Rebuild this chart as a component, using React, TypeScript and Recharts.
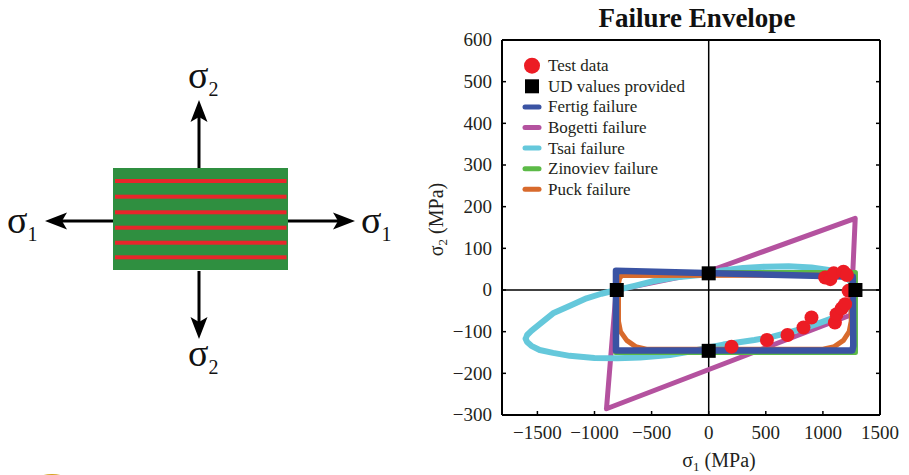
import React from 'react';
import { ScatterChart, Scatter, XAxis, YAxis, ReferenceLine, Legend, Label } from 'recharts';

const FONT = '"Liberation Serif", "Times New Roman", serif';
const SERIF = { fontFamily: FONT };

// Axis setup (MPa)
const SIGMA1_TICKS = [-1500, -1000, -500, 0, 500, 1000, 1500];
const SIGMA2_TICKS = [-300, -200, -100, 0, 100, 200, 300, 400, 500, 600];
const SIGMA1_DOMAIN: [number, number] = [-1810, 1500];
const SIGMA2_DOMAIN: [number, number] = [-300, 600];

// Biaxial test results
const testS1 = [200, 510, 690, 830, 900, 1105, 1120, 1165, 1195, 1225, 1020, 1065, 1095, 1180, 1210];
const testS2 = [-136, -120, -108, -90, -66, -78, -58, -44, -34, -2, 30, 26, 40, 44, 36];

// Uniaxial strengths supplied for the UD lamina
const udS1 = [-805, 0, 0, 1285];
const udS2 = [0, 40, -146, 0];

// Predicted failure envelopes, traced as closed outlines
const fertigS1 = [-812, -812, 1262, 1266, 1258, -812];
const fertigS2 = [-145, 46, 32, -134, -145, -145];

const bogettiS1 = [-895, 1245, 1283, 0, -810, -895];
const bogettiS2 = [-285, -60, 172, 45, 0, -285];

const tsaiS1 = [-1603, -1590, -1553, -1480, -1363, -1200, -1070, -940, -807, -650, -486, -300, -76, 100, 300, 500, 700, 900, 1050, 1150, 1220, 1254, 1262, 1248, 1220, 1160, 1080, 960, 860, 700, 560, 400, 250, 128, 0, -150, -339, -600, -800, -1000, -1217, -1363, -1480, -1553, -1590, -1603];
const tsaiS2 = [-117, -108, -98, -82, -56, -36, -20, -9, 0, 10, 21, 30, 36, 46, 53, 56, 57, 54, 48, 40, 28, 14, 0, -24, -42, -56, -68, -80, -90, -102, -112, -120, -126, -131, -138, -147, -156, -162, -164, -163, -158, -151, -144, -134, -125, -117];

const zinovievS1 = [-815, -815, 1285, 1285, -815];
const zinovievS2 = [-150, 42, 42, -150, -150];

const puckS1 = [-790, -790, -780, -760, 1240, 1248, 1248, 1230, 1180, 1100, 1000, -545, -640, -718, -772, -790];
const puckS2 = [-75, 15, 28, 35, 36, 28, -75, -100, -121, -136, -142, -142, -136, -121, -100, -75];

const COLORS = {
  test: '#ec1c24',
  ud: '#000000',
  fertig: '#3a53a3',
  bogetti: '#b4529f',
  tsai: '#65c8db',
  zinoviev: '#5cba47',
  puck: '#d86a2c',
};

const LEGEND_ITEMS = [
  { name: 'Test data', kind: 'circle', color: COLORS.test },
  { name: 'UD values provided', kind: 'square', color: COLORS.ud },
  { name: 'Fertig failure', kind: 'line', color: COLORS.fertig },
  { name: 'Bogetti failure', kind: 'line', color: COLORS.bogetti },
  { name: 'Tsai failure', kind: 'line', color: COLORS.tsai },
  { name: 'Zinoviev failure', kind: 'line', color: COLORS.zinoviev },
  { name: 'Puck failure', kind: 'line', color: COLORS.puck },
];

const zip = (xs: number[], ys: number[]) => xs.map((x, i) => ({ x, y: ys[i] }));

const testData = zip(testS1, testS2);
const udData = zip(udS1, udS2);
const fertigData = zip(fertigS1, fertigS2);
const bogettiData = zip(bogettiS1, bogettiS2);
const tsaiData = zip(tsaiS1, tsaiS2);
const zinovievData = zip(zinovievS1, zinovievS2);
const puckData = zip(puckS1, puckS2);

const fmt = (v: number) => (v < 0 ? '\u2212' + Math.abs(v) : String(v));
const blank = () => '';
const noMarker = () => <g />;

const Dot = (p: any) => <circle cx={p.cx} cy={p.cy} r={7} fill={COLORS.test} />;
const Square = (p: any) => <rect x={p.cx - 7} y={p.cy - 7} width={14} height={14} fill={COLORS.ud} />;

const outline = (color: string, width: number) => ({
  stroke: color,
  strokeWidth: width,
  strokeLinejoin: 'round' as const,
  strokeLinecap: 'round' as const,
});

const TICK_FONT = 19;

const XTick = (p: any) => (
  <text x={p.x} y={p.y} dy="0.71em" textAnchor="middle" fontSize={TICK_FONT} fill="#231f20" style={SERIF}>
    {fmt(p.payload.value)}
  </text>
);

const YTick = (p: any) => (
  <text x={p.x} y={p.y} dy="0.34em" textAnchor="end" fontSize={TICK_FONT} fill="#231f20" style={SERIF}>
    {fmt(p.payload.value)}
  </text>
);

const renderLegend = () => (
  <svg width={200} height={150} style={{ display: 'block', fontFamily: FONT }}>
    {LEGEND_ITEMS.map((item, i) => {
      const cy = 11.7 + i * 20.6;
      let marker;
      if (item.kind === 'circle') marker = <circle cx={17} cy={cy} r={8} fill={item.color} />;
      else if (item.kind === 'square') marker = <rect x={10} y={cy - 7} width={14} height={14} fill={item.color} />;
      else marker = <line x1={10} x2={24} y1={cy} y2={cy} stroke={item.color} strokeWidth={5} strokeLinecap="round" />;
      return (
        <g key={item.name}>
          {marker}
          <text x={33} y={cy + 5.5} fontSize={17} fill="#231f20" style={SERIF}>{item.name}</text>
        </g>
      );
    })}
  </svg>
);

const S2Label = (props: any) => {
  const vb = props.viewBox || { x: 0, y: 40, width: 502, height: 375 };
  const x = vb.x + vb.width - 59;
  const y = vb.y + vb.height / 2 - 8;
  return (
    <text x={x} y={y} transform={`rotate(-90 ${x} ${y})`} textAnchor="middle" fontSize={20} fill="#231f20" style={SERIF}>
      σ<tspan fontSize={13} dy={4}>2</tspan><tspan dy={-4}> (MPa)</tspan>
    </text>
  );
};

const S1Label = (props: any) => {
  const vb = props.viewBox || { x: 502, y: 415, width: 378, height: 60 };
  const x = vb.x + vb.width / 2 + 28;
  const y = vb.y + 52;
  return (
    <text x={x} y={y} textAnchor="middle" fontSize={20} fill="#231f20" style={SERIF}>
      σ<tspan fontSize={13} dy={4}>1</tspan><tspan dy={-4}> (MPa)</tspan>
    </text>
  );
};

const frame = { stroke: '#000', strokeWidth: 2 };
const tickMark = { stroke: '#000', strokeWidth: 1.5 };

// Lamina sketch: green ply with red fibres, loaded along both material axes
const Arrow = ({ x1, y1, x2, y2 }: { x1: number; y1: number; x2: number; y2: number }) => {
  const a = Math.atan2(y2 - y1, x2 - x1);
  const head = 22;
  const half = 8.5;
  const bx = x2 - head * Math.cos(a);
  const by = y2 - head * Math.sin(a);
  const nx = -Math.sin(a);
  const ny = Math.cos(a);
  const notchX = x2 - (head - 5) * Math.cos(a);
  const notchY = y2 - (head - 5) * Math.sin(a);
  return (
    <g>
      <line x1={x1} y1={y1} x2={notchX} y2={notchY} stroke="#000" strokeWidth={3} />
      <path d={`M${x2},${y2} L${bx + nx * half},${by + ny * half} L${notchX},${notchY} L${bx - nx * half},${by - ny * half} Z`} fill="#000" />
    </g>
  );
};

const FIBRE_ROWS = [181, 196.7, 212.3, 227.7, 242.7, 257.3];

const Sigma = ({ x, y, sub }: { x: number; y: number; sub: string }) => (
  <text x={x} y={y} fontSize={38} fill="#111" style={SERIF}>
    σ<tspan fontSize={20} dy={8}>{sub}</tspan>
  </text>
);

const Sketch = () => (
  <svg width={909} height={475} style={{ position: 'absolute', left: 0, top: 0, pointerEvents: 'none' }}>
    <defs>
      <radialGradient id="haze" cx="50%" cy="100%" r="60%">
        <stop offset="0%" stopColor="#b0b0b0" stopOpacity={0.35} />
        <stop offset="100%" stopColor="#ffffff" stopOpacity={0} />
      </radialGradient>
    </defs>
    <rect x={113} y={168} width={175} height={102} fill="#2f8f40" />
    {FIBRE_ROWS.map((y) => (
      <rect key={y} x={115} y={y - 2} width={171.5} height={4} fill="#e8262b" />
    ))}
    <Arrow x1={199} y1={168} x2={199} y2={100} />
    <Arrow x1={199} y1={271} x2={199} y2={339} />
    <Arrow x1={113} y1={221} x2={45} y2={221} />
    <Arrow x1={288} y1={221} x2={355} y2={221} />
    <Sigma x={188} y={88} sub="2" />
    <Sigma x={188} y={366} sub="2" />
    <Sigma x={7} y={233} sub="1" />
    <Sigma x={361} y={233} sub="1" />
    <text x={697} y={27} textAnchor="middle" fontSize={27} fontWeight="bold" fill="#111" style={SERIF}>
      Failure Envelope
    </text>
    <ellipse cx={52} cy={482} rx={44} ry={22} fill="url(#haze)" />
    <ellipse cx={52} cy={480} rx={15} ry={6} fill="#d6a21e" />
  </svg>
);

export default function App() {
  return (
    <div style={{ position: 'absolute', left: 0, top: 0, width: 909, height: 475, background: '#fff', fontFamily: FONT, overflow: 'hidden' }}>
      <ScatterChart width={909} height={475} margin={{ top: 39, right: 28, bottom: 0, left: 0 }} style={SERIF}>
        <XAxis
          type="number"
          dataKey="x"
          domain={SIGMA1_DOMAIN}
          ticks={SIGMA1_TICKS}
          interval={0}
          allowDataOverflow
          height={60}
          tickSize={-4}
          tickMargin={15}
          axisLine={frame}
          tickLine={tickMark}
          tick={XTick}
        >
          <Label content={S1Label} />
        </XAxis>
        <XAxis
          xAxisId="top"
          orientation="top"
          type="number"
          domain={SIGMA1_DOMAIN}
          ticks={SIGMA1_TICKS}
          interval={0}
          allowDataOverflow
          height={1}
          tickSize={-4}
          axisLine={frame}
          tickLine={tickMark}
          tickFormatter={blank}
        />
        <YAxis
          type="number"
          dataKey="y"
          domain={SIGMA2_DOMAIN}
          ticks={SIGMA2_TICKS}
          interval={0}
          allowDataOverflow
          width={502}
          tickSize={-4}
          tickMargin={14}
          axisLine={frame}
          tickLine={tickMark}
          tick={YTick}
        >
          <Label content={S2Label} />
        </YAxis>
        <YAxis
          yAxisId="right"
          orientation="right"
          type="number"
          domain={SIGMA2_DOMAIN}
          ticks={SIGMA2_TICKS}
          interval={0}
          allowDataOverflow
          width={1}
          tickSize={-4}
          axisLine={frame}
          tickLine={tickMark}
          tickFormatter={blank}
        />
        <ReferenceLine x={0} stroke="#000" strokeWidth={1.5} />
        <ReferenceLine y={0} stroke="#000" strokeWidth={1.5} />
        <Scatter name="Bogetti failure" data={bogettiData} fill={COLORS.bogetti} line={outline(COLORS.bogetti, 5)} lineType="joint" shape={noMarker} isAnimationActive={false} />
        <Scatter name="Tsai failure" data={tsaiData} fill={COLORS.tsai} line={outline(COLORS.tsai, 6)} lineType="joint" shape={noMarker} isAnimationActive={false} />
        <Scatter name="Zinoviev failure" data={zinovievData} fill={COLORS.zinoviev} line={outline(COLORS.zinoviev, 5)} lineType="joint" shape={noMarker} isAnimationActive={false} />
        <Scatter name="Puck failure" data={puckData} fill={COLORS.puck} line={outline(COLORS.puck, 5)} lineType="joint" shape={noMarker} isAnimationActive={false} />
        <Scatter name="Fertig failure" data={fertigData} fill={COLORS.fertig} line={outline(COLORS.fertig, 6.5)} lineType="joint" shape={noMarker} isAnimationActive={false} />
        <Scatter name="Test data" data={testData} fill={COLORS.test} shape={Dot} isAnimationActive={false} />
        <Scatter name="UD values provided" data={udData} fill={COLORS.ud} shape={Square} isAnimationActive={false} />
        <Legend
          layout="vertical"
          align="center"
          verticalAlign="middle"
          content={renderLegend}
          wrapperStyle={{ left: 515, top: 54, width: 200, height: 150 }}
        />
      </ScatterChart>
      <Sketch />
    </div>
  );
}
